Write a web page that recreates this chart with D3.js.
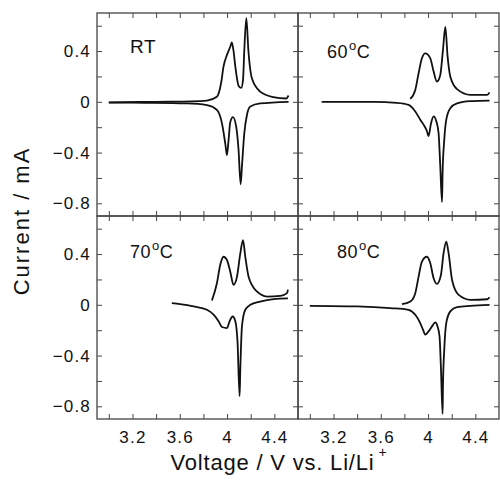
<!DOCTYPE html>
<html>
<head>
<meta charset="utf-8">
<script src="https://cdn.jsdelivr.net/npm/d3@7"></script>
<style>
  body { margin: 0; background: #fff; }
  svg { font-family: "Liberation Sans", Arial, sans-serif; }
</style>
</head>
<body>
<div id="chart"></div>
<script>
var svgWidth = 500;
var svgHeight = 484;

// tick values
var xMajor = [3.2, 3.6, 4, 4.4];
var xMinor = [3.0, 3.2, 3.4, 3.6, 3.8, 4.0, 4.2, 4.4];
var yMajor = [0.4, 0, -0.4, -0.8];
var yMinor = [-0.8, -0.6, -0.4, -0.2, 0, 0.2, 0.4, 0.6];

var panelNames = ["RT", "60", "70", "80"];

// [voltage, current], anodic (upper) and cathodic (lower) branches
var rtUp = [[3.0, -0.005], [3.4, 0], [3.7, 0.003], [3.83, 0.01], [3.914, 0.04], [3.95, 0.15], [3.97, 0.277],
  [3.999, 0.37], [4.027, 0.434], [4.04, 0.468], [4.055, 0.4], [4.07, 0.277], [4.098, 0.125], [4.12, 0.11],
  [4.135, 0.173], [4.146, 0.41], [4.163, 0.66], [4.18, 0.41], [4.21, 0.185], [4.28, 0.08], [4.39, 0.037],
  [4.5, 0.026], [4.52, 0.05]];
var rtDown = [[4.52, 0.0], [4.28, -0.013], [4.197, -0.037], [4.169, -0.1], [4.146, -0.246], [4.126, -0.507],
  [4.115, -0.65], [4.097, -0.376], [4.078, -0.2], [4.05, -0.12], [4.027, -0.16], [4.013, -0.3], [3.999, -0.42],
  [3.985, -0.33], [3.957, -0.17], [3.914, -0.063], [3.83, -0.026], [3.66, -0.013], [3.3, -0.008], [3.0, -0.006]];

var c60Up = [[3.849, 0.023], [3.892, 0.094], [3.92, 0.225], [3.948, 0.343], [3.976, 0.382], [4.019, 0.343],
  [4.047, 0.238], [4.075, 0.16], [4.103, 0.21], [4.126, 0.408], [4.146, 0.59], [4.165, 0.36], [4.188, 0.2],
  [4.245, 0.1], [4.358, 0.055], [4.5, 0.055], [4.52, 0.073]];
var c60Down = [[4.52, 0.01], [4.358, 0.005], [4.245, -0.013], [4.188, -0.05], [4.154, -0.141], [4.137, -0.3],
  [4.123, -0.56], [4.118, -0.79], [4.103, -0.5], [4.089, -0.246], [4.07, -0.154], [4.047, -0.115],
  [4.025, -0.17], [4.004, -0.27], [3.99, -0.23], [3.962, -0.18], [3.934, -0.141], [3.892, -0.076],
  [3.835, -0.024], [3.736, -0.008], [3.54, 0], [3.1, 0]];

var c70Up = [[3.872, 0.034], [3.914, 0.17], [3.942, 0.314], [3.97, 0.379], [3.999, 0.353], [4.027, 0.261],
  [4.055, 0.157], [4.084, 0.222], [4.112, 0.405], [4.135, 0.51], [4.154, 0.38], [4.182, 0.222], [4.253, 0.105],
  [4.338, 0.065], [4.45, 0.07], [4.507, 0.092], [4.515, 0.12]];
var c70Down = [[4.515, 0.05], [4.394, 0.045], [4.28, 0.026], [4.197, 0], [4.154, -0.039], [4.126, -0.17],
  [4.112, -0.51], [4.106, -0.72], [4.089, -0.3], [4.07, -0.13], [4.047, -0.092], [4.021, -0.13], [4.0, -0.183],
  [3.957, -0.175], [3.928, -0.13], [3.886, -0.078], [3.83, -0.039], [3.716, -0.013], [3.603, 0.005], [3.533, 0.013]];

var c80Up = [[3.779, 0.005], [3.85, 0.026], [3.892, 0.092], [3.92, 0.222], [3.948, 0.34], [3.99, 0.379],
  [4.019, 0.327], [4.047, 0.209], [4.075, 0.165], [4.109, 0.235], [4.131, 0.405], [4.154, 0.497], [4.174, 0.405],
  [4.203, 0.196], [4.259, 0.078], [4.358, 0.039], [4.5, 0.044], [4.52, 0.06]];
var c80Down = [[4.52, 0], [4.358, -0.008], [4.245, -0.018], [4.188, -0.052], [4.154, -0.144], [4.137, -0.353],
  [4.126, -0.64], [4.123, -0.86], [4.109, -0.5], [4.097, -0.248], [4.08, -0.17], [4.061, -0.139], [4.033, -0.17],
  [4.004, -0.209], [3.976, -0.235], [3.957, -0.196], [3.934, -0.144], [3.892, -0.078], [3.835, -0.039],
  [3.68, -0.026], [3.4, -0.013], [3.0, -0.008]];

var curves = [[rtUp, rtDown], [c60Up, c60Down], [c70Up, c70Down], [c80Up, c80Down]];

// panel layout
var marginLeft = 97, marginTop = 13, panelW = 201, panelH = 203;
// label anchor inside each panel (x, baseline)
var labelPos = [[33, 40], [29, 45], [33, 42], [39, 42]];

var svg = d3.select("#chart")
  .append("svg")
  .attr("width", svgWidth)
  .attr("height", svgHeight);

var x = d3.scaleLinear().domain([2.9, 4.6]).range([0, panelW]);
var y = d3.scaleLinear().domain([-0.9, 0.7]).range([panelH, 0]);

var line = d3.line()
  .x(d => x(d[0]))
  .y(d => y(d[1]))
  .curve(d3.curveMonotoneX);

panelNames.forEach(function(name, i) {
  var col = i % 2, row = Math.floor(i / 2);
  var g = svg.append("g")
    .attr("transform", `translate(${marginLeft + col * panelW}, ${marginTop + row * panelH})`);

  // inward ticks on all four sides
  var tickAxes = [
    [d3.axisLeft(y).tickValues(yMinor).tickSize(-5), 0, 0],
    [d3.axisRight(y).tickValues(yMinor).tickSize(-5), panelW, 0],
    [d3.axisTop(x).tickValues(xMinor).tickSize(-5), 0, 0],
    [d3.axisBottom(x).tickValues(xMinor).tickSize(-5), 0, panelH]
  ];
  tickAxes.forEach(function(a) {
    var ax = g.append("g")
      .attr("transform", `translate(${a[1]}, ${a[2]})`)
      .call(a[0].tickFormat(""));
    ax.select(".domain").remove();
    ax.selectAll("line").attr("stroke", "#444").attr("stroke-width", 1);
  });

  g.append("rect")
    .attr("width", panelW)
    .attr("height", panelH)
    .attr("fill", "none")
    .attr("stroke", "#444")
    .attr("stroke-width", 1.3);

  if (col === 0) {
    var yl = g.append("g")
      .call(d3.axisLeft(y).tickValues(yMajor).tickSize(0).tickPadding(6).tickFormat(d3.format("")));
    yl.select(".domain").remove();
    yl.selectAll("text").attr("font-size", 17).attr("letter-spacing", 1.2)
      .attr("font-family", "Liberation Sans, Arial, sans-serif").attr("fill", "#111");
  }
  if (row === 1) {
    var xl = g.append("g")
      .attr("transform", `translate(0, ${panelH})`)
      .call(d3.axisBottom(x).tickValues(xMajor).tickSize(0).tickPadding(12).tickFormat(d3.format("")));
    xl.select(".domain").remove();
    xl.selectAll("text").attr("font-size", 17).attr("letter-spacing", 1.2)
      .attr("font-family", "Liberation Sans, Arial, sans-serif").attr("fill", "#111");
  }

  curves[i].forEach(function(branch) {
    var pts = branch.slice().sort((a, b) => a[0] - b[0]);
    g.append("path")
      .datum(pts)
      .attr("d", line)
      .attr("fill", "none")
      .attr("stroke", "#111")
      .attr("stroke-width", 1.8)
      .attr("stroke-linejoin", "round");
  });

  // panel label
  var lbl = g.append("text")
    .attr("x", labelPos[i][0])
    .attr("y", labelPos[i][1])
    .attr("font-size", name === "RT" ? 19 : 18)
    .attr("letter-spacing", 0.5)
    .attr("fill", "#111");
  if (name === "RT") {
    lbl.text("RT");
  } else {
    lbl.append("tspan").text(name);
    lbl.append("tspan").attr("font-size", 13).attr("dy", -8).attr("dx", 1).text("o");
    lbl.append("tspan").attr("dy", 8).text("C");
  }
});

// axis titles
svg.append("text")
  .attr("transform", "translate(29, 221) rotate(-90)")
  .attr("text-anchor", "middle")
  .attr("font-size", 22)
  .attr("letter-spacing", 2)
  .attr("fill", "#111")
  .text("Current / mA");

var xt = svg.append("text")
  .attr("x", 279)
  .attr("y", 470)
  .attr("text-anchor", "middle")
  .attr("font-size", 22)
  .attr("letter-spacing", 0.8)
  .attr("fill", "#111");
xt.append("tspan").text("Voltage / V vs. Li/Li");
xt.append("tspan").attr("font-size", 14).attr("dy", -13).attr("dx", 4).text("+");
</script>
</body>
</html>
